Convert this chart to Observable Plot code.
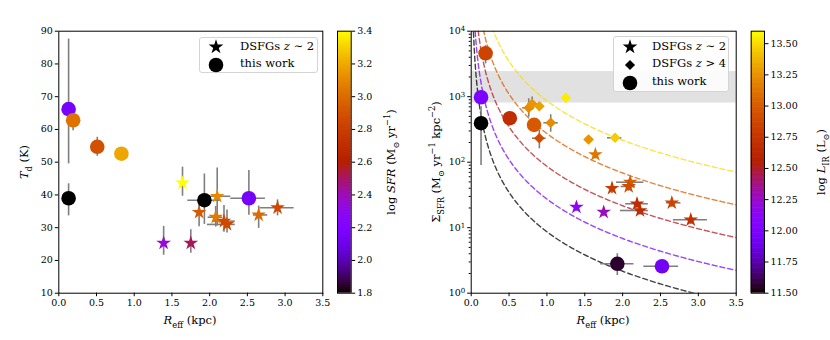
<!DOCTYPE html>
<html><head><meta charset="utf-8">
<script src="https://cdn.jsdelivr.net/npm/d3@7"></script>
<script src="https://cdn.jsdelivr.net/npm/@observablehq/plot@0.6"></script>
<style>
body{margin:0;background:#fff;}
#fig{position:relative;width:830px;height:340px;font-family:"DejaVu Serif","Liberation Serif",serif;color:#000;}
.lab{position:absolute;white-space:nowrap;font-size:11.5px;line-height:1;transform:translate(-50%,-50%);}
.rot{transform:translate(-50%,-50%) rotate(-90deg);}
.lab sub,.lab sup,.legend sub{font-size:0.72em;line-height:0;}
.legend{position:absolute;box-sizing:border-box;border:1px solid #d4d4d4;border-radius:3px;background:rgba(255,255,255,0.85);font-size:11.5px;}
.legend .row{position:absolute;left:0;white-space:nowrap;line-height:1;}
.legend svg{position:absolute;}
</style></head><body><div id="fig"></div>
<script>
// ---------- DATA ----------
// "this work" (circles), same galaxies in both panels
const workR       = [0.13, 0.19, 0.51, 0.83, 0.13, 1.93, 2.52];
const workRLo     = [null, null, null, null, null, 1.71, 2.28];
const workRHi     = [null, null, null, null, null, 2.15, 2.74];
const workTd      = [66.2, 62.8, 54.7, 52.6, 39.0, 38.4, 39.0];
const workTdLo    = [49.5, 59.6, 51.8, 51.4, 33.6, 31.0, 33.8];
const workTdHi    = [87.6, 66.0, 57.6, 53.8, 43.4, 46.4, 47.5];
const workLogSFR  = [2.15, 3.02, 2.89, 3.19, 1.80, 1.80, 2.14];
const workSigma   = [980, 4600, 470, 372, 394, 2.81, 2.58];
const workSigmaLo = [830, 3170, 430, 340, 89, 1.86, 2.25];
const workSigmaHi = [1150, 6000, 515, 410, 700, 4.0, 2.95];
const workLogLIR  = [12.00, 12.85, 12.68, 12.98, 11.50, 11.56, 11.92];

// DSFGs z~2 (stars)
const z2R         = [1.64, 2.10, 1.86, 2.08, 2.19, 2.23, 2.65, 2.90, 1.39, 1.75];
const z2RLo       = [null, 1.92, null, 1.98, 2.04, 1.97, 2.58, 2.67, null, null];
const z2RHi       = [null, 2.28, null, 2.17, 2.34, 2.34, 2.77, 3.12, null, null];
const z2Td        = [43.7, 39.6, 34.7, 33.2, 32.0, 31.0, 33.9, 36.1, 25.3, 25.3];
const z2TdLo      = [39.6, 30.5, 30.3, 30.2, 28.6, 28.4, 29.8, 33.6, 21.6, 22.2];
const z2TdHi      = [48.5, 48.2, 38.6, 36.5, 36.8, 35.4, 36.6, 38.5, 30.4, 29.4];
const z2LogSFR    = [3.40, 3.10, 2.93, 3.05, 2.85, 2.85, 3.00, 2.85, 2.35, 2.51];
const z2Sigma     = [131, 49.5, 40.0, 42.6, 23.2, 18.3, 24.0, 13.2, 20.6, 17.3];
const z2SigmaLo   = [112, 42, 33, 36, 19.5, 15.5, 20.5, 11.2, 17.5, 14.8];
const z2SigmaHi   = [152, 58, 48, 50, 27.5, 21.5, 28, 15.4, 24, 20];
const z2LogLIR    = [13.12, 13.00, 12.80, 12.90, 12.66, 12.66, 12.85, 12.70, 12.13, 12.28];

// DSFGs z>4 (diamonds, right panel only)
const z4R         = [0.76, 0.805, 0.90, 1.25, 1.05, 0.90, 1.55, 1.90];
const z4RLo       = [0.68, null, null, null, 0.96, 0.81, null, 1.80];
const z4RHi       = [0.84, null, null, null, 1.15, 0.99, null, 1.99];
const z4Sigma     = [676, 780, 716, 960, 400, 232, 222, 236];
const z4SigmaLo   = [486, 620, null, null, 287, 160, null, null];
const z4SigmaHi   = [929, 990, null, null, 530, 305, null, null];
const z4LogLIR    = [13.22, 13.25, 13.30, 13.55, 13.22, 12.90, 13.25, 13.45];

// iso-luminosity curves (log L_IR) and grey band limits
const curveLevels = [11.5, 12.0, 12.5, 13.0, 13.5];
const bandSigma   = [800, 2420];

// ticks
const xTicks        = [0, 0.5, 1, 1.5, 2, 2.5, 3, 3.5];
const tdTicks       = [10, 20, 30, 40, 50, 60, 70, 80, 90];
const sigmaTicks    = [1, 10, 100, 1000, 10000];
const sigmaExps     = ["0", "1", "2", "3", "4"];
const sfrTicks      = [1.8, 2.0, 2.2, 2.4, 2.6, 2.8, 3.0, 3.2, 3.4];
const lirTicks      = [11.5, 11.75, 12.0, 12.25, 12.5, 12.75, 13.0, 13.25, 13.5];
const sfrDomain     = [1.8, 3.4];
const lirDomain     = [11.5, 13.6];

// ---------- HELPERS ----------
const FONT = "'DejaVu Serif', 'Liberation Serif', serif";
const W = 830, H = 340;
const gnuplot = t => {
  t = Math.max(0, Math.min(1, t));
  return d3.rgb(255*Math.sqrt(t), 255*t*t*t, 255*Math.max(0, Math.sin(2*Math.PI*t))).formatHex();
};
const rows = (n, f) => d3.range(n).map(f);
const work = rows(workR.length, i => ({R: workR[i], Rlo: workRLo[i], Rhi: workRHi[i], Td: workTd[i], TdLo: workTdLo[i], TdHi: workTdHi[i], sfr: workLogSFR[i], S: workSigma[i], Slo: workSigmaLo[i], Shi: workSigmaHi[i], lir: workLogLIR[i]}));
const z2 = rows(z2R.length, i => ({R: z2R[i], Rlo: z2RLo[i], Rhi: z2RHi[i], Td: z2Td[i], TdLo: z2TdLo[i], TdHi: z2TdHi[i], sfr: z2LogSFR[i], S: z2Sigma[i], Slo: z2SigmaLo[i], Shi: z2SigmaHi[i], lir: z2LogLIR[i]}));
const z4 = rows(z4R.length, i => ({R: z4R[i], Rlo: z4RLo[i], Rhi: z4RHi[i], S: z4Sigma[i], Slo: z4SigmaLo[i], Shi: z4SigmaHi[i], lir: z4LogLIR[i]}));
// Kennicutt (1998): SFR = 1.72e-10 L_IR ; Sigma = SFR / (2 pi R^2)
const curves = curveLevels.flatMap(L => d3.range(0.03, 3.51, 0.01).map(R => ({level: L, R, S: 1.72e-10*Math.pow(10, L)/(2*Math.PI*R*R)})));

const ERR = {stroke: "#7f7f7f", strokeWidth: 1.6};
const has = k => d => d[k] != null;
const style = {fontFamily: FONT, fontSize: "9.5px", background: "transparent", color: "black", overflow: "visible"};
const fig = document.getElementById("fig");
function add(svg){ svg.style.position = "absolute"; svg.style.left = "0px"; svg.style.top = "0px"; fig.appendChild(svg); return svg; }

const TOP = 30.7, BOT = H - 292.7;
const STAR_R = 4.6, DIA_R = 4.8, CIRC_R = 7.3;

// ---------- LEFT PANEL ----------
add(Plot.plot({
  width: W, height: H, marginLeft: 58.3, marginRight: W - 322.3, marginTop: TOP, marginBottom: BOT, style,
  x: {domain: [0, 3.5]}, y: {domain: [10, 90]},
  color: {type: "linear", domain: sfrDomain, interpolate: gnuplot},
  marks: [
    Plot.ruleX(z2.filter(has("TdLo")), {x: "R", y1: "TdLo", y2: "TdHi", ...ERR}),
    Plot.ruleY(z2.filter(has("Rlo")), {y: "Td", x1: "Rlo", x2: "Rhi", ...ERR}),
    Plot.ruleX(work.filter(has("TdLo")), {x: "R", y1: "TdLo", y2: "TdHi", ...ERR}),
    Plot.ruleY(work.filter(has("Rlo")), {y: "Td", x1: "Rlo", x2: "Rhi", ...ERR}),
    Plot.dot(z2, {x: "R", y: "Td", fill: "sfr", symbol: "star", r: STAR_R}),
    Plot.dot(work, {x: "R", y: "Td", fill: "sfr", r: CIRC_R}),
    Plot.axisX({ticks: xTicks, tickFormat: d => d.toFixed(1), tickSize: 3.5, tickPadding: 2.5, label: null}),
    Plot.axisY({ticks: tdTicks, tickFormat: d => String(d), tickSize: 3.5, tickPadding: 2.5, label: null}),
    Plot.frame({stroke: "black", strokeWidth: 1})
  ]
}));

// ---------- LEFT COLORBAR ----------
const sfrSteps = d3.range(sfrDomain[0], sfrDomain[1], 0.01);
add(Plot.plot({
  width: W, height: H, marginLeft: 337, marginRight: W - 350.7, marginTop: TOP, marginBottom: BOT, style,
  x: {domain: [0, 1], axis: null}, y: {domain: sfrDomain},
  color: {type: "linear", domain: sfrDomain, interpolate: gnuplot},
  marks: [
    Plot.rect(sfrSteps, {x1: 0, x2: 1, y1: d => d, y2: d => Math.min(sfrDomain[1], d + 0.015), fill: d => d + 0.005}),
    Plot.axisY({anchor: "right", ticks: sfrTicks, tickFormat: d => d.toFixed(1), tickSize: 3.5, tickPadding: 2.5, label: null}),
    Plot.frame({stroke: "black", strokeWidth: 1})
  ]
}));

// ---------- RIGHT PANEL ----------
const minorTicks = [];
for (const p of [1, 10, 100, 1000]) for (const m of [2,3,4,5,6,7,8,9]) minorTicks.push(m*p);
const right = add(Plot.plot({
  width: W, height: H, marginLeft: 470.7, marginRight: W - 735.7, marginTop: TOP, marginBottom: BOT, style,
  x: {domain: [0, 3.5]}, y: {type: "log", domain: [1, 10000]},
  color: {type: "linear", domain: lirDomain, interpolate: gnuplot},
  marks: [
    Plot.rect([bandSigma], {x1: 0, x2: 3.5, y1: d => d[0], y2: d => d[1], fill: "#808080", fillOpacity: 0.24}),
    Plot.line(curves, {x: "R", y: "S", z: "level", stroke: "level", strokeOpacity: 0.75, strokeWidth: 1.4, strokeDasharray: "5,3", clip: true}),
    Plot.ruleX(z2.filter(has("Slo")), {x: "R", y1: "Slo", y2: "Shi", ...ERR}),
    Plot.ruleY(z2.filter(has("Rlo")), {y: "S", x1: "Rlo", x2: "Rhi", ...ERR}),
    Plot.ruleX(z4.filter(has("Slo")), {x: "R", y1: "Slo", y2: "Shi", ...ERR}),
    Plot.ruleY(z4.filter(has("Rlo")), {y: "S", x1: "Rlo", x2: "Rhi", ...ERR}),
    Plot.ruleX(work.filter(has("Slo")), {x: "R", y1: "Slo", y2: "Shi", ...ERR}),
    Plot.ruleY(work.filter(has("Rlo")), {y: "S", x1: "Rlo", x2: "Rhi", ...ERR}),
    Plot.dot(z2, {x: "R", y: "S", fill: "lir", symbol: "star", r: STAR_R}),
    Plot.dot(z4, {x: "R", y: "S", fill: "lir", symbol: "diamond2", r: DIA_R}),
    Plot.dot(work, {x: "R", y: "S", fill: "lir", r: CIRC_R}),
    Plot.axisX({ticks: xTicks, tickFormat: d => d.toFixed(1), tickSize: 3.5, tickPadding: 2.5, label: null}),
    Plot.axisY({ticks: sigmaTicks, tickFormat: d => "10^" + sigmaExps[sigmaTicks.indexOf(d)], tickSize: 3.5, tickPadding: 2.5, label: null, ariaLabel: "sigma-major"}),
    Plot.axisY({ticks: minorTicks, tickFormat: () => "", tickSize: 2, label: null}),
    Plot.frame({stroke: "black", strokeWidth: 1})
  ]
}));
// render "10^k" tick labels with a real superscript
d3.select(right).selectAll("text").each(function(){
  const s = this.textContent;
  if (/^10\^\d$/.test(s)) {
    const e = s.split("^")[1];
    const t = d3.select(this).text("");
    t.append("tspan").text("10");
    t.append("tspan").attr("dy", "-0.45em").attr("font-size", "7px").text(e);
  }
});

// ---------- RIGHT COLORBAR ----------
const lirSteps = d3.range(lirDomain[0], lirDomain[1], 0.01);
add(Plot.plot({
  width: W, height: H, marginLeft: 750.7, marginRight: W - 764, marginTop: TOP, marginBottom: BOT, style,
  x: {domain: [0, 1], axis: null}, y: {domain: lirDomain},
  color: {type: "linear", domain: lirDomain, interpolate: gnuplot},
  marks: [
    Plot.rect(lirSteps, {x1: 0, x2: 1, y1: d => d, y2: d => Math.min(lirDomain[1], d + 0.015), fill: d => d + 0.005}),
    Plot.axisY({anchor: "right", ticks: lirTicks, tickFormat: d => d.toFixed(2), tickSize: 3.5, tickPadding: 2.5, label: null}),
    Plot.frame({stroke: "black", strokeWidth: 1})
  ]
}));

// ---------- TEXT LABELS ----------
function label(html, x, y, rot){
  const d = document.createElement("div");
  d.className = "lab" + (rot ? " rot" : "");
  d.style.left = x + "px"; d.style.top = y + "px";
  d.innerHTML = html; fig.appendChild(d);
}
label("<i>R</i><sub>eff</sub> (kpc)", 190, 321, false);
label("<i>R</i><sub>eff</sub> (kpc)", 603, 321, false);
label("<i>T</i><sub>d</sub> (K)", 25, 162, true);
label("Σ<sub>SFR</sub> (M<sub>⊙</sub> yr<sup>−1</sup> kpc<sup>−2</sup>)", 437, 162, true);
label("log <i>SFR</i> (M<sub>⊙</sub> yr<sup>−1</sup>)", 392, 162, true);
label("log <i>L</i><sub>IR</sub> (L<sub>⊙</sub>)", 822, 162, true);

// ---------- LEGENDS ----------
function legend(x, y, w, h, entries){
  const box = document.createElement("div");
  box.className = "legend";
  Object.assign(box.style, {left: x + "px", top: y + "px", width: w + "px", height: h + "px"});
  entries.forEach(e => {
    const s = document.createElementNS("http://www.w3.org/2000/svg", "svg");
    s.setAttribute("width", 20); s.setAttribute("height", 20);
    s.style.left = (e.sx - 10) + "px"; s.style.top = (e.sy - 10) + "px";
    const p = document.createElementNS("http://www.w3.org/2000/svg", "path");
    p.setAttribute("d", d3.symbol().type(e.type).size(e.size)());
    p.setAttribute("transform", "translate(10,10)");
    s.appendChild(p); box.appendChild(s);
    const t = document.createElement("div");
    t.className = "row"; t.style.left = e.tx + "px"; t.style.top = (e.sy - 6.5) + "px";
    t.innerHTML = e.html; box.appendChild(t);
  });
  fig.appendChild(box);
}
const starSize = Math.PI*STAR_R*STAR_R, diaSize = Math.PI*DIA_R*DIA_R*0.9, circSize = Math.PI*CIRC_R*CIRC_R;
legend(199, 37, 119, 36, [
  {type: d3.symbolStar, size: starSize, sx: 16, sy: 9, tx: 40, html: "DSFGs <i>z</i> ∼ 2"},
  {type: d3.symbolCircle, size: circSize, sx: 16, sy: 26.5, tx: 40, html: "this work"}
]);
legend(613, 36, 116, 56, [
  {type: d3.symbolStar, size: starSize, sx: 15.5, sy: 10, tx: 38, html: "DSFGs <i>z</i> ∼ 2"},
  {type: d3.symbolDiamond2, size: diaSize, sx: 15.5, sy: 27.5, tx: 38, html: "DSFGs <i>z</i> &gt; 4"},
  {type: d3.symbolCircle, size: circSize, sx: 15.5, sy: 45.5, tx: 38, html: "this work"}
]);
</script></body></html>
